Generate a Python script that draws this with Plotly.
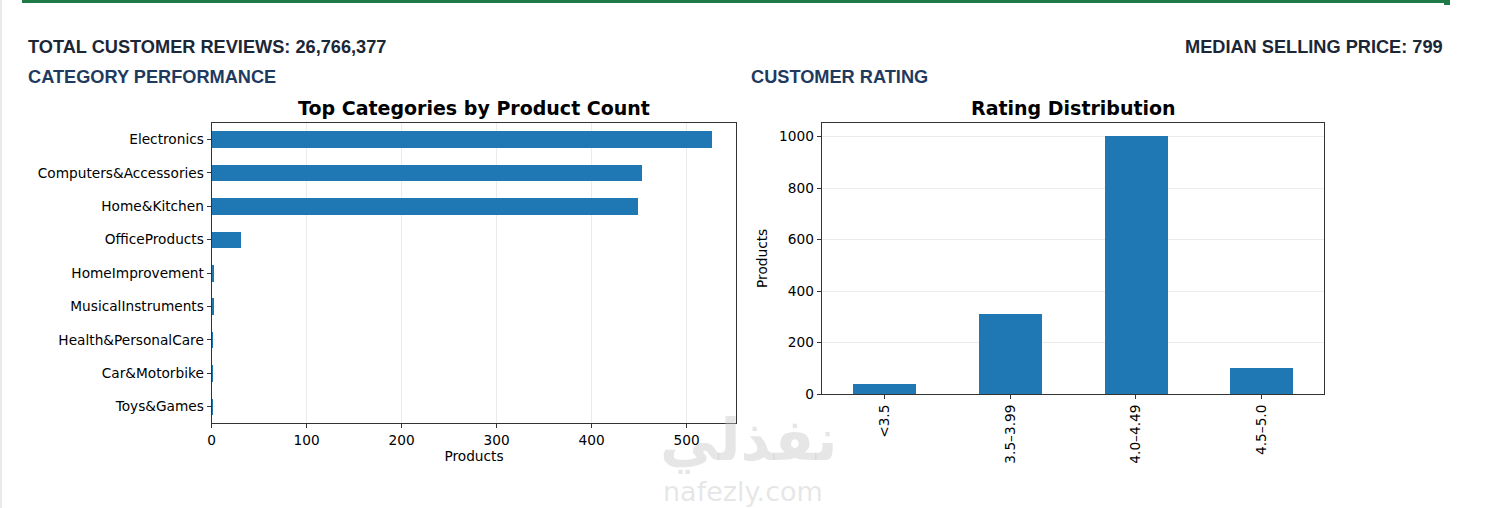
import plotly.graph_objects as go

# Données
categories = [
    "Electronics", "Computers&Accessories", "Home&Kitchen", "OfficeProducts",
    "HomeImprovement", "MusicalInstruments", "Health&PersonalCare",
    "Car&Motorbike", "Toys&Games",
]
category_counts = [526, 453, 448, 31, 2, 2, 1, 1, 1]

rating_bins = ["<3.5", "3.5–3.99", "4.0–4.49", "4.5–5.0"]
rating_counts = [40, 312, 1004, 101]

total_reviews = "26,766,377"
median_price = "799"

W, H = 1491, 508
BLUE = "#1f77b4"
AXIS = "#333333"
GRID = "#ebebeb"
TICK_FONT = dict(family="DejaVu Sans", size=13.7, color="black")
HEAD_FONT = "Liberation Sans, Arial, sans-serif"


def px_x(v):
    return v / W


def px_y(v):
    return 1 - v / H


fig = go.Figure()

# Barres horizontales : catégories (ordre inversé pour avoir Electronics en haut)
fig.add_trace(go.Bar(
    x=category_counts[::-1],
    y=categories[::-1],
    orientation="h",
    width=0.5,
    marker=dict(color=BLUE, line=dict(width=0)),
    xaxis="x", yaxis="y",
    showlegend=False,
))

# Barres verticales : distribution des notes
fig.add_trace(go.Bar(
    x=rating_bins,
    y=rating_counts,
    width=0.5,
    marker=dict(color=BLUE, line=dict(width=0)),
    xaxis="x2", yaxis="y2",
    showlegend=False,
))

axis_common = dict(
    showline=True, linecolor=AXIS, linewidth=1.2, mirror=True,
    ticks="outside", ticklen=4, tickcolor=AXIS, tickwidth=1,
    tickfont=TICK_FONT, zeroline=False, automargin=False,
)

fig.update_layout(
    width=W, height=H,
    margin=dict(l=0, r=0, t=0, b=0),
    paper_bgcolor="white", plot_bgcolor="white",
    bargap=0,
    xaxis=dict(
        domain=[px_x(211.7), px_x(736.3)],
        range=[0, 552.3],
        tickvals=[0, 100, 200, 300, 400, 500],
        showgrid=True, gridcolor=GRID, gridwidth=1,
        title=dict(text="Products", font=TICK_FONT, standoff=4),
        anchor="y",
        **axis_common,
    ),
    yaxis=dict(
        domain=[px_y(423.3), px_y(122.7)],
        range=[-0.5, 8.5],
        showgrid=False,
        anchor="x",
        **axis_common,
    ),
    xaxis2=dict(
        domain=[px_x(821.7), px_x(1324.3)],
        range=[-0.5, 3.5],
        tickangle=-90,
        showgrid=False,
        anchor="y2",
        **axis_common,
    ),
    yaxis2=dict(
        domain=[px_y(394), px_y(122.7)],
        range=[0, 1054.4],
        tickvals=[0, 200, 400, 600, 800, 1000],
        showgrid=True, gridcolor=GRID, gridwidth=1,
        title=dict(text="Products", font=TICK_FONT, standoff=8),
        anchor="x2",
        **axis_common,
    ),
)

annotations = [
    # titres des graphiques
    dict(text="<b>Top Categories by Product Count</b>", x=px_x(474), y=px_y(108),
         font=dict(family="DejaVu Sans", size=19, color="black")),
    dict(text="<b>Rating Distribution</b>", x=px_x(1073), y=px_y(108),
         font=dict(family="DejaVu Sans", size=19, color="black")),
    # en-têtes du tableau de bord
    dict(text="<b>TOTAL CUSTOMER REVIEWS: " + total_reviews + "</b>", x=px_x(26), y=px_y(47),
         xanchor="left", font=dict(family=HEAD_FONT, size=18.2, color="#1b2636")),
    dict(text="<b>MEDIAN SELLING PRICE: " + median_price + "</b>", x=px_x(1445), y=px_y(47),
         xanchor="right", font=dict(family=HEAD_FONT, size=18.2, color="#1b2636")),
    dict(text="<b>CATEGORY PERFORMANCE</b>", x=px_x(26), y=px_y(77),
         xanchor="left", font=dict(family=HEAD_FONT, size=18.2, color="#1f3a5f")),
    dict(text="<b>CUSTOMER RATING</b>", x=px_x(749), y=px_y(77),
         xanchor="left", font=dict(family=HEAD_FONT, size=18.2, color="#1f3a5f")),
    # filigrane
    dict(text="<b>نفذلي</b>", x=px_x(748), y=px_y(440),
         font=dict(family="DejaVu Sans", size=58, color="rgba(200,200,200,0.45)")),
    dict(text="nafezly.com", x=px_x(743), y=px_y(491),
         font=dict(family="DejaVu Sans", size=27, color="rgba(200,200,200,0.45)")),
]
for a in annotations:
    a.setdefault("xanchor", "center")
    a.update(xref="paper", yref="paper", yanchor="middle", showarrow=False)
fig.update_layout(annotations=annotations)

# Bordures de la feuille (ligne verte en haut, bord gris à gauche)
fig.update_layout(shapes=[
    dict(type="rect", xref="paper", yref="paper", x0=px_x(22), x1=px_x(1447),
         y0=px_y(3), y1=1, fillcolor="#1e7a46", line=dict(width=0)),
    dict(type="rect", xref="paper", yref="paper", x0=px_x(1444), x1=px_x(1450),
         y0=px_y(5), y1=1, fillcolor="#1e7a46", line=dict(width=0)),
    dict(type="line", xref="paper", yref="paper", x0=px_x(1), x1=px_x(1),
         y0=0, y1=1, line=dict(color="#d4d4d4", width=1)),
])

# la page a une marge de 8px par défaut : on la retire pour caler la figure en (0, 0)
fig.write_html(
    "out.html",
    config={"displayModeBar": False},
    post_script="document.body.style.margin='0';document.body.style.overflow='hidden';",
)
